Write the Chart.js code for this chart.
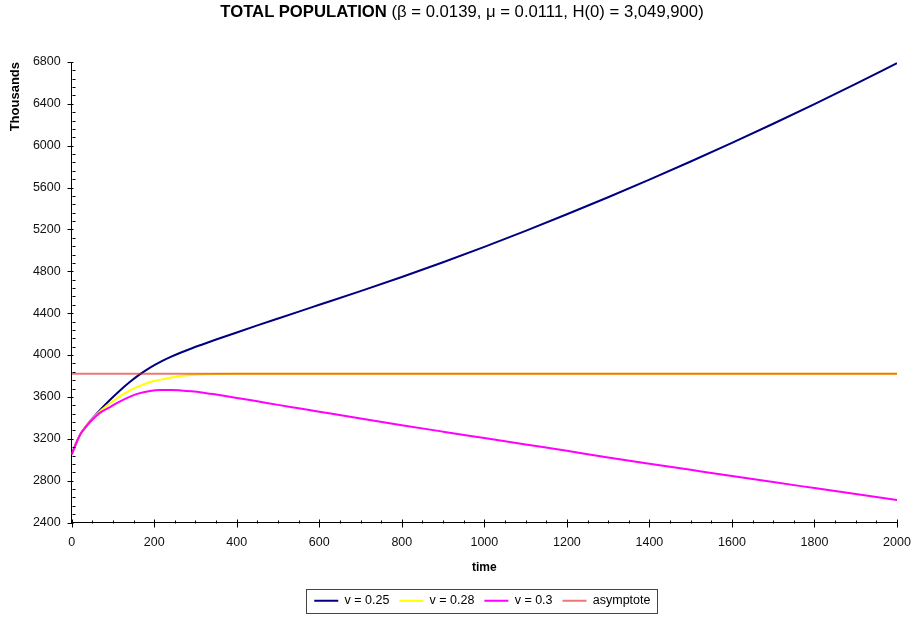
<!DOCTYPE html>
<html><head><meta charset="utf-8">
<script src="https://cdn.jsdelivr.net/npm/chart.js@4.4.0/dist/chart.umd.min.js"></script>
<style>
html,body{margin:0;padding:0;background:#fff;}
#wrap{position:relative;width:913px;height:617px;}
#title{position:absolute;left:462px;top:4px;transform:translateX(-50%);white-space:nowrap;font-family:"Liberation Sans",Arial,sans-serif;font-size:16.7px;line-height:1;color:#000;}
canvas{position:absolute;left:0;top:0;}
</style></head><body>
<div id="wrap"><canvas id="c" width="913" height="617"></canvas><div id="title"><b>TOTAL POPULATION</b> (β = 0.0139, μ = 0.0111, H(0) = 3,049,900)</div></div>
<script>
// ---- data (thousands) ----
const timePoints = [0,10,20,30,45,70,95,115,140,165,190,215,240,265,290,315,350,400,450,500,554,600,700,800,900,1000,1100,1200,1300,1400,1500,1600,1700,1800,1900,2000];
const v025 = [3050,3150,3237,3295,3370,3480,3580,3655,3740,3815,3880,3935,3982,4024,4063,4099,4148,4216,4283,4349,4420,4480,4611,4746,4887,5034,5187,5345,5508,5676,5849,6027,6210,6398,6591,6789];
const v028 = [3050,3150,3237,3295,3368,3468,3545,3600,3660,3705,3743,3765,3784,3800,3809,3814,3818,3821,3822,3822,3822,3822,3822,3822,3822,3822,3822,3822,3822,3822,3822,3822,3822,3822,3822,3822];
const v030 = [3050,3150,3237,3293,3362,3452,3508,3552,3600,3636,3657,3666,3667,3662,3654,3643,3622,3590,3558,3524,3489,3459,3394,3330,3268,3207,3146,3085,3022,2962,2903,2844,2786,2729,2672,2615];
const asymptoteTimes = [0, 2000];
const asymptoteValues = [3822, 3822];
const seriesLabels = ['v = 0.25', 'v = 0.28', 'v = 0.3', 'asymptote'];
const xTickValues = [0,200,400,600,800,1000,1200,1400,1600,1800,2000];
const yTickValues = [2400,2800,3200,3600,4000,4400,4800,5200,5600,6000,6400,6800];
const xAxisTitle = 'time';
const yAxisTitle = 'Thousands';

const toXY = (xs, ys) => xs.map((t, i) => ({x: t, y: ys[i]}));

Chart.defaults.font.family = '"Liberation Sans", Arial, sans-serif';

const legendExtent = lg => {
  const hb = lg.legendHitBoxes;
  return {
    l: Math.min(...hb.map(b => b.left)),
    r: Math.max(...hb.map(b => b.left + b.width)),
    t: Math.min(...hb.map(b => b.top)),
    b: Math.max(...hb.map(b => b.top + b.height))
  };
};

const axisTicks = {
  id: 'axisTicks',
  afterUpdate(chart) {
    // centre the legend under the plot area instead of the whole canvas
    const lg = chart.legend, ca = chart.chartArea;
    if (!lg || !lg.legendHitBoxes || !lg.legendHitBoxes.length) return;
    const e = legendExtent(lg);
    const shift = ((ca.left + ca.right) / 2 - 2) - (e.l + e.r) / 2;
    lg.left += shift; lg.right += shift;
    lg.legendHitBoxes.forEach(b => { b.left += shift; });
  },
  afterDraw(chart) {
    const {ctx, chartArea: ca, scales: {x, y}} = chart;
    ctx.save();
    ctx.strokeStyle = '#000';
    ctx.lineWidth = 1;
    ctx.beginPath();
    const yb = Math.round(ca.bottom) + 0.5;
    for (let v = x.min; v <= x.max; v += 50) {
      const px = Math.round(x.getPixelForValue(v)) + 0.5;
      const major = v % 200 === 0;
      ctx.moveTo(px, yb - (major ? 4 : 3));
      ctx.lineTo(px, yb + (major ? 4 : 0));
    }
    const xl = Math.round(ca.left) + 0.5;
    for (let v = y.min; v <= y.max; v += 80) {
      const py = Math.round(y.getPixelForValue(v)) + 0.5;
      const major = (v - y.min) % 400 === 0;
      ctx.moveTo(xl - (major ? 5 : 0), py);
      ctx.lineTo(xl + (major ? 1 : 3), py);
    }
    ctx.stroke();
    // legend frame
    const lg = chart.legend;
    if (lg && lg.legendHitBoxes && lg.legendHitBoxes.length) {
      const e = legendExtent(lg);
      ctx.strokeStyle = '#444';
      ctx.strokeRect(Math.round(e.l - 8) + 0.5, Math.round(e.t - 6) + 0.5, Math.round(e.r - e.l + 15), Math.round(e.b - e.t + 11));
    }
    ctx.restore();
  }
};

new Chart(document.getElementById('c'), {
  type: 'line',
  data: {
    datasets: [
      {label: seriesLabels[0], data: toXY(timePoints, v025), borderColor: '#000080', borderWidth: 2, order: 3},
      {label: seriesLabels[1], data: toXY(timePoints, v028), borderColor: '#FFFF00', borderWidth: 2, order: 2},
      {label: seriesLabels[2], data: toXY(timePoints, v030), borderColor: '#FF00FF', borderWidth: 2, order: 1},
      {label: seriesLabels[3], data: toXY(asymptoteTimes, asymptoteValues), borderColor: 'rgba(220,30,30,0.6)', borderWidth: 2, order: 0}
    ]
  },
  options: {
    responsive: false,
    animation: false,
    devicePixelRatio: 1,
    events: [],
    layout: {padding: {left: 0, right: 16, top: 62, bottom: 0}},
    elements: {point: {radius: 0}, line: {cubicInterpolationMode: 'monotone', fill: false}},
    plugins: {
      title: {display: false},
      tooltip: {enabled: false},
      legend: {
        position: 'bottom',
        labels: {
          usePointStyle: true, pointStyle: 'line', pointStyleWidth: 24,
          padding: 10, color: '#000', font: {size: 12.5},
          sort: (a, b) => a.datasetIndex - b.datasetIndex
        }
      }
    },
    scales: {
      x: {
        type: 'linear', min: 0, max: 2000,
        grid: {display: true, drawOnChartArea: false, drawTicks: false},
        border: {display: true, color: '#000', width: 1},
        ticks: {padding: 13, color: '#111', font: {size: 12.5}, callback: v => String(v)},
        title: {display: true, text: xAxisTitle, color: '#000', font: {size: 12, weight: 'bold'}, padding: {top: 4, bottom: 10}},
        afterBuildTicks: s => { s.ticks = xTickValues.map(v => ({value: v})); },
        afterFit: s => { s.paddingLeft = 0; s.paddingRight = 0; s.height = 62; }
      },
      y: {
        type: 'linear', min: 2400, max: 6800,
        grid: {display: true, drawOnChartArea: false, drawTicks: false},
        border: {display: true, color: '#000', width: 1},
        ticks: {padding: 11, color: '#111', font: {size: 12.5}, callback: v => String(v)},
        title: {display: true, text: yAxisTitle, align: 'end', color: '#000', font: {size: 13, weight: 'bold'}, padding: {top: 8, bottom: 0}},
        afterBuildTicks: s => { s.ticks = yTickValues.map(v => ({value: v})); },
        afterFit: s => { s.paddingTop = 0; s.paddingBottom = 0; s.width = 71.7; }
      }
    }
  },
  plugins: [axisTicks]
});
</script>
</body></html>
